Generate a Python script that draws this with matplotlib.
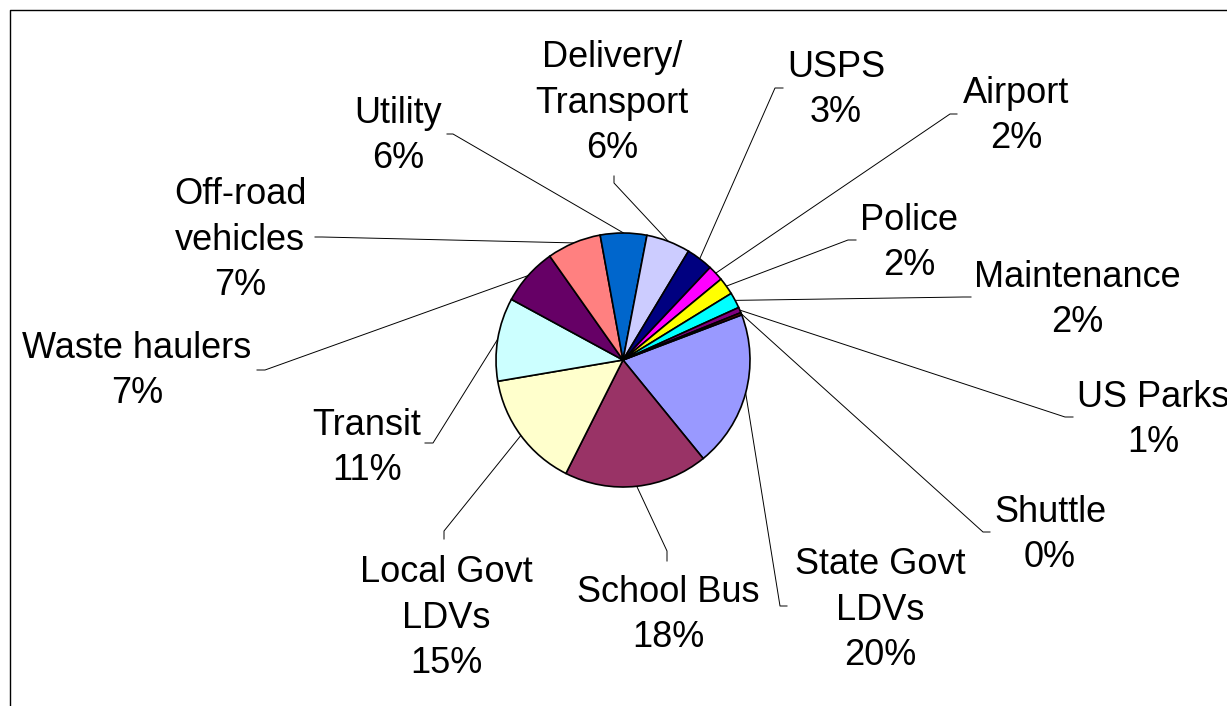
import numpy as np
import matplotlib
matplotlib.use("Agg")
import matplotlib.pyplot as plt

plt.rcParams['font.family'] = ['Liberation Sans', 'DejaVu Sans']

# -------------------------
# data (share of fleet)
# -------------------------
categories = ["State Govt\nLDVs", "School Bus", "Local Govt\nLDVs", "Transit",
              "Waste haulers", "Off-road\nvehicles", "Utility", "Delivery/\nTransport",
              "USPS", "Airport", "Police", "Maintenance", "US Parks", "Shuttle"]
shares = [19.9, 18.3, 14.9, 10.6, 7.3, 6.9, 5.9, 5.6, 3.4, 2.0, 2.2, 2.0, 0.7, 0.3]
colors = ["#9999FF", "#993366", "#FFFFCC", "#CCFFFF", "#660066", "#FF8080", "#0066CC",
          "#CCCCFF", "#000080", "#FF00FF", "#FFFF00", "#00FFFF", "#800080", "#800000"]

# label layout in pixels: (x centre, last-line baseline), stub start, knee
label_pos = [(880, 665), (668, 647), (446, 673), (367, 480), (137, 403), (240, 295),
             (398, 168), (612, 158), (836, 122), (1016, 148), (909, 275), (1077, 332),
             (1153, 452), (1050, 567)]
stub_a = [(787, 606), (667, 561), (444, 539), (425, 443), (257, 370), (315, 237),
          (447, 134), (614, 176), (783, 88), (957, 114), (856, 240), (971, 297),
          (1073, 417), (990, 532)]
stub_b = [(780, 606), (667, 551), (444, 531), (433, 443), (265, 370), (322, 237),
          (453, 134), (614, 183), (775, 88), (950, 114), (848, 240), (963, 297),
          (1065, 417), (983, 532)]

W, H = 1227, 706
cx, cy, r = 623, 360, 127

fig = plt.figure(figsize=(W / 100, H / 100), dpi=100)
ax = fig.add_axes([0, 0, 1, 1])

# y axis inverted -> counterclock in data is clockwise on screen
wedges, _ = ax.pie(shares, colors=colors, startangle=-20.8, counterclock=True,
                   center=(cx, cy), radius=r,
                   wedgeprops=dict(edgecolor="black", linewidth=1.2))

ax.set_xlim(0, W)
ax.set_ylim(H, 0)
ax.set_aspect("auto")
ax.axis("off")

pct = np.array(shares) / sum(shares) * 100

for w, name, p, (tx, ty), a, b in zip(wedges, categories, pct, label_pos, stub_a, stub_b):
    ang = np.deg2rad((w.theta1 + w.theta2) / 2)
    ex, ey = cx + r * np.cos(ang), cy + r * np.sin(ang)
    ax.plot([a[0], b[0], ex], [a[1], b[1], ey], color="black", lw=0.7, zorder=0)
    ax.text(tx, ty, f"{name}\n{p:.0f}%", ha="center", va="baseline",
            multialignment="center", fontsize=26, linespacing=1.38, color="black")

# chart frame (only left and top edges are inside the picture)
ax.plot([10, 10, W], [H, 10, 10], color="black", lw=1.0, clip_on=False)

fig.savefig("out.png", dpi=100)
